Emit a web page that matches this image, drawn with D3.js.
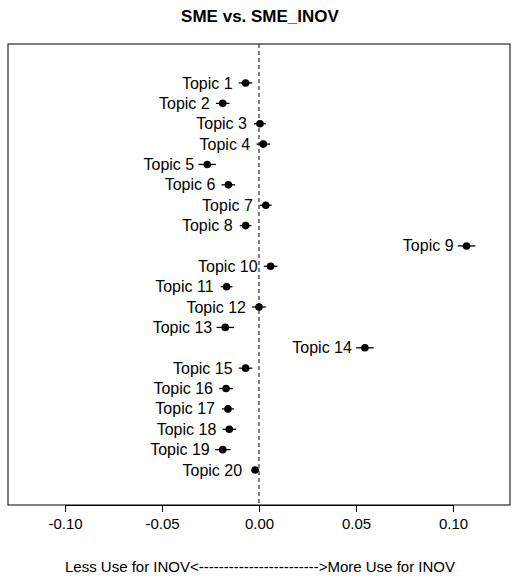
<!DOCTYPE html><html><head><meta charset="utf-8"><script src="https://cdn.jsdelivr.net/npm/d3@7"></script>
<style>body{margin:0;background:#fff}text{font-family:"Liberation Sans",Arial,sans-serif}</style></head><body><svg id="c" width="520" height="580"></svg><script>
const topics=["Topic 1","Topic 2","Topic 3","Topic 4","Topic 5","Topic 6","Topic 7","Topic 8","Topic 9","Topic 10","Topic 11","Topic 12","Topic 13","Topic 14","Topic 15","Topic 16","Topic 17","Topic 18","Topic 19","Topic 20"];
const estimates=[-0.0069,-0.0187,0.0005,0.0022,-0.0267,-0.0158,0.0035,-0.0069,0.107,0.006,-0.0167,0.0,-0.0174,0.0546,-0.0069,-0.017,-0.016,-0.0153,-0.0187,-0.002];
const halfCI=[0.0035,0.0035,0.003,0.0035,0.0045,0.0035,0.003,0.003,0.0045,0.0035,0.003,0.0035,0.0045,0.0045,0.0035,0.0035,0.003,0.0035,0.004,0.002];
const xTicks=[-0.10,-0.05,0.00,0.05,0.10];
const svg=d3.select("#c");
const L=8,R=510,T=44,B=505;
const x=d3.scaleLinear().domain([-0.1294,0.1294]).range([L,R]);
const y=d3.scaleLinear().domain([1,20]).range([83,470]);
svg.append("rect").attr("x",L).attr("y",T).attr("width",R-L).attr("height",B-T).attr("fill","none").attr("stroke","#000");
svg.append("text").attr("x",260).attr("y",22).attr("text-anchor","middle").attr("font-weight","bold").attr("font-size",17).text("SME vs. SME_INOV");
svg.append("line").attr("x1",x(0)).attr("x2",x(0)).attr("y1",T).attr("y2",B).attr("stroke","#000").attr("stroke-dasharray","4,3");
const ax=svg.append("g").attr("transform",`translate(0,${B})`).call(d3.axisBottom(x).tickValues(xTicks).tickFormat(d=>d3.format(".2f")(d).replace("−","-")).tickSize(7).tickPadding(6));
ax.select(".domain").attr("d",`M${x(-0.1)},0.5H${x(0.1)}`);
ax.selectAll("text").attr("font-size",15).attr("font-family","Liberation Sans, Arial, sans-serif");
svg.append("text").attr("x",260).attr("y",572).attr("text-anchor","middle").attr("font-size",15).text("Less Use for INOV<------------------------>More Use for INOV");
const g=svg.selectAll("g.pt").data(topics).enter().append("g");
g.append("line").attr("x1",(d,i)=>x(estimates[i]-halfCI[i])).attr("x2",(d,i)=>x(estimates[i]+halfCI[i])).attr("y1",(d,i)=>y(i+1)).attr("y2",(d,i)=>y(i+1)).attr("stroke","#000").attr("stroke-width",1.3);
g.append("circle").attr("cx",(d,i)=>x(estimates[i])).attr("cy",(d,i)=>y(i+1)).attr("r",3.8).attr("fill","#000");
g.append("text").attr("x",(d,i)=>x(estimates[i])-13).attr("y",(d,i)=>y(i+1)+5.5).attr("text-anchor","end").attr("font-size",16).text(d=>d);
</script></body></html>
